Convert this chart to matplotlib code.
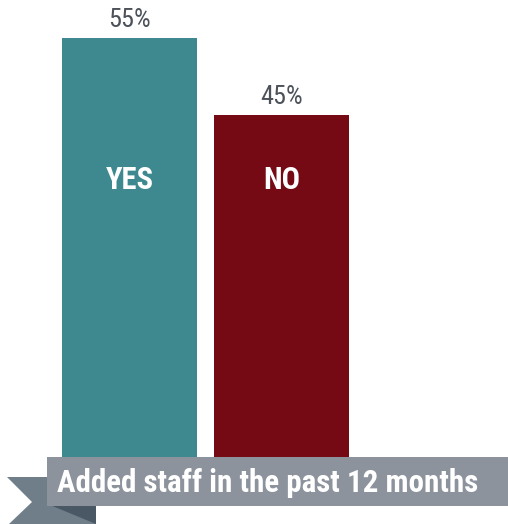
import matplotlib.pyplot as plt
from matplotlib.patches import Polygon, Rectangle

answers = ["YES", "NO"]
shares = [55, 45]
value_labels = ["55%", "45%"]
banner_title = "Added staff in the past 12 months"

bar_colors = ["#3e8990", "#750a14"]
W, H = 508, 524
FONT = ["Roboto Condensed", "DejaVu Sans"]


def fx(x):
    return x / W


def fy(y):
    return 1 - y / H


fig = plt.figure(figsize=(W / 100, H / 100), dpi=100)

# bar axes: baseline at y=461.5 px, 55% reaches y=38 px
base = 461.5
ax = fig.add_axes([0, fy(base), 1, base / H])
ax.set_ylim(0, 55 * base / (base - 38))
ax.set_xlim(-129.5 / 152, (W - 129.5) / 152)
xs = range(len(answers))
bars = ax.bar(xs, shares, width=135 / 152, color=bar_colors)
for x, v, lab, name in zip(xs, shares, value_labels, answers):
    ax.text(x, v + 1.4, lab, ha="center", va="baseline", fontsize=19,
            color="#4d525a", family=FONT)
    ax.text(x, 36.5, name, ha="center", va="center", fontsize=22,
            color="white", fontweight="bold", family=FONT)
ax.axis("off")

# ribbon tail behind the banner
tail = Polygon([(fx(7), fy(477)), (fx(60), fy(477)), (fx(96), fy(505)),
                (fx(96), fy(524)), (fx(9), fy(524)), (fx(32), fy(502))],
               closed=True, transform=fig.transFigure, color="#6f7e88", lw=0)
fold = Polygon([(fx(50), fy(505)), (fx(96), fy(505)), (fx(96), fy(524))],
               closed=True, transform=fig.transFigure, color="#4a5865", lw=0)
banner = Rectangle((fx(47), fy(506)), fx(W - 47), (506 - 457) / H,
                   transform=fig.transFigure, color="#8c939c", lw=0)
for p in (tail, fold, banner):
    fig.patches.append(p)

fig.text(fx(57), fy(492), banner_title, ha="left", va="baseline",
         fontsize=22.3, color="white", fontweight="bold", family=FONT)

fig.savefig("out.png", dpi=100)
